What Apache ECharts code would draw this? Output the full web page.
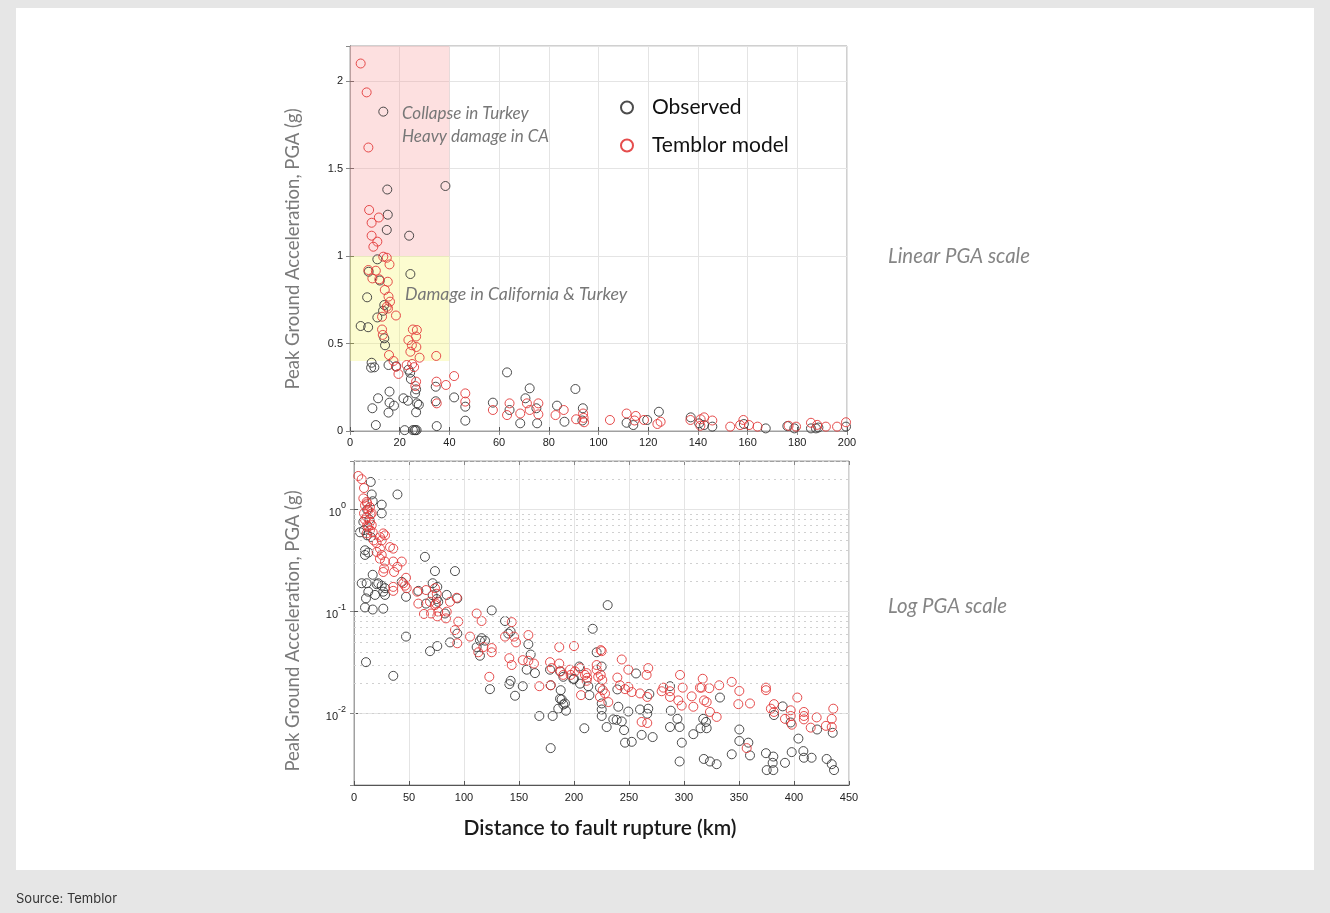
<!DOCTYPE html>
<html><head><meta charset="utf-8">
<script src="https://cdn.jsdelivr.net/npm/echarts@6/dist/echarts.min.js"></script>
<style>
html,body{margin:0;padding:0;background:#e6e6e6;width:1330px;height:913px;overflow:hidden;}
#panel{position:absolute;left:16px;top:8px;width:1298px;height:862px;background:#fff;}
#chart{position:absolute;left:0;top:0;width:1330px;height:913px;}
</style></head><body>
<div id="panel"></div><div id="chart"></div>
<script>
// ---- Linear panel (0-200 km): [distance km, PGA g]
const topObserved = [
  [13.4,1.825],[15.0,1.38],[38.4,1.40],[15.2,1.236],[14.8,1.149],[23.8,1.116],[11.0,0.981],[7.5,0.91],
  [24.3,0.897],[12.0,0.86],[6.9,0.764],[13.8,0.72],[13.3,0.687],[11.0,0.649],[4.3,0.60],[7.3,0.593],
  [13.8,0.53],[14.1,0.49],[8.7,0.39],[8.5,0.362],[9.8,0.364],[15.5,0.377],[18.6,0.37],[23.5,0.35],
  [24.2,0.333],[24.5,0.297],[26.6,0.238],[26.2,0.215],[34.5,0.253],[41.9,0.192],[46.4,0.139],[46.4,0.059],
  [15.9,0.225],[11.3,0.187],[9.0,0.13],[15.9,0.162],[15.5,0.105],[17.7,0.145],[21.5,0.187],[23.3,0.173],
  [27.0,0.158],[27.7,0.15],[26.6,0.107],[34.5,0.17],[10.4,0.034],[22.0,0.005],[25.3,0.005],[26.0,0.005],
  [26.3,0.005],[26.8,0.005],[34.9,0.028],
  [57.5,0.162],[63.2,0.335],[64.2,0.12],[68.5,0.044],[72.3,0.244],[70.6,0.187],[75.0,0.13],[75.3,0.044],
  [83.3,0.145],[86.3,0.053],[90.7,0.24],[93.7,0.13],[93.5,0.06],
  [111.3,0.047],[114.0,0.034],[119.6,0.063],[124.3,0.11],[137.1,0.078],[140.5,0.044],[142.5,0.034],
  [145.8,0.025],[158.5,0.04],[167.3,0.015],[176.0,0.028],[178.8,0.015],[185.5,0.015],[187.5,0.015],
  [188.5,0.02],[199.6,0.025]
];
const topModel = [
  [4.3,2.10],[6.7,1.935],[7.4,1.62],[7.7,1.263],[8.7,1.19],[11.6,1.22],[8.7,1.116],[11.0,1.082],
  [9.4,1.053],[13.4,0.996],[14.8,0.99],[15.9,0.952],[7.4,0.92],[10.4,0.916],[9.0,0.872],[11.8,0.867],
  [15.2,0.853],[14.0,0.806],[15.5,0.768],[16.1,0.739],[14.8,0.71],[15.3,0.70],[12.9,0.653],[18.5,0.66],
  [12.9,0.58],[25.3,0.58],[26.9,0.577],[13.2,0.549],[23.5,0.52],[26.6,0.54],[24.9,0.49],[26.7,0.48],
  [15.7,0.434],[24.3,0.453],[28.0,0.419],[34.7,0.429],[17.5,0.40],[18.5,0.367],[19.5,0.326],[22.8,0.377],
  [25.0,0.383],[25.8,0.365],[26.6,0.282],[26.3,0.257],[34.8,0.282],[38.6,0.263],[41.9,0.314],[46.4,0.215],
  [46.4,0.168],[34.9,0.158],
  [57.5,0.12],[64.2,0.158],[63.2,0.091],[68.5,0.1],[71.2,0.158],[72.3,0.12],[75.8,0.158],[75.8,0.095],
  [82.7,0.091],[86.0,0.12],[91.0,0.067],[94.0,0.075],[94.2,0.05],[93.8,0.1],
  [104.6,0.063],[111.3,0.1],[115.0,0.086],[114.5,0.06],[118.3,0.063],[123.7,0.04],[125.0,0.053],[137.0,0.063],
  [141.1,0.067],[142.5,0.078],[141.0,0.03],[145.8,0.06],[153.0,0.025],[157.0,0.034],[158.3,0.063],[160.6,0.034],
  [164.0,0.025],[179.5,0.025],[176.5,0.03],[185.5,0.047],[188.0,0.035],[191.5,0.025],[196.0,0.025],[199.6,0.05]
];
// ---- Log panel (0-450 km): [distance km, PGA g]
const logObserved = [
  [15.2,1.87],[16.1,1.41],[39.5,1.41],[17.0,1.21],[25.2,1.12],[25.2,0.92],[8.5,0.76],[5.5,0.60],[9.0,0.63],
  [15.2,0.54],[12.0,0.56],[10.0,0.40],[10.0,0.36],[13.0,0.38],[12.0,1.0],[14.0,0.8],[17.0,0.23],[11.5,0.19],
  [20.6,0.186],[25.2,0.18],[28.2,0.17],[22.0,0.19],[7.0,0.19],[43.4,0.196],[10.9,0.135],[19.1,0.146],
  [28.2,0.146],[13.0,0.157],[26.6,0.157],[17.0,0.105],[26.6,0.107],[10.0,0.11],[47.3,0.14],[10.9,0.032],
  [35.7,0.0235],[47.3,0.057],
  [64.5,0.345],[73.6,0.25],[91.8,0.25],[71.5,0.19],[75.7,0.175],[58.5,0.16],[65.5,0.12],[71.5,0.145],
  [75.2,0.133],[76.6,0.125],[84.3,0.146],[93.9,0.135],[82.7,0.096],[93.9,0.061],[87.3,0.05],[69.1,0.041],
  [75.7,0.046],
  [125.2,0.103],[114.5,0.052],[119.1,0.052],[111.5,0.045],[114.5,0.037],[116.0,0.055],[123.6,0.0174],
  [137.3,0.081],[142.4,0.064],[140.3,0.061],[142.4,0.021],[141.2,0.0195],[153.4,0.0186],[146.4,0.015],
  [158.5,0.048],[160.6,0.038],[157.0,0.027],[164.5,0.025],[178.2,0.027],[178.8,0.019],[187.9,0.017],
  [187.3,0.014],[190.3,0.0123],[187.3,0.026],[190.3,0.023],[192.7,0.0107],[168.5,0.0095],[180.6,0.0095],
  [178.8,0.0046],[185.7,0.0112],[188.8,0.0138],[191.8,0.0126],
  [204.8,0.029],[200.0,0.022],[217.0,0.068],[213.0,0.0186],[214.0,0.0152],[220.6,0.04],[230.6,0.116],
  [225.2,0.029],[256.4,0.0248],[223.6,0.018],[225.2,0.0126],[225.2,0.011],[225.2,0.0095],[240.3,0.0117],
  [239.4,0.0173],[235.7,0.0088],[238.8,0.0087],[243.4,0.0084],[245.5,0.0069],[246.4,0.0052],[252.5,0.0053],
  [249.4,0.0105],[229.7,0.0074],[209.4,0.0072],[267.5,0.0112],[260.0,0.011],[266.6,0.01],[261.5,0.0062],
  [271.5,0.0059],[287.3,0.0186],[268.5,0.0156],[288.0,0.0107],[294.0,0.0089],[296.0,0.0074],[298.0,0.0052],
  [296.0,0.0034],[287.3,0.0074],[205.5,0.0197],[199.4,0.0217],
  [308.5,0.0063],[315.0,0.0072],[320.0,0.0083],[317.5,0.0089],[320.6,0.0072],[318.0,0.0036],[323.6,0.0034],
  [329.7,0.0032],[332.7,0.0144],[343.4,0.004],[350.3,0.007],[358.5,0.0052],[360.0,0.0039],[374.5,0.0041],
  [381.2,0.0038],[380.6,0.0033],[375.2,0.0028],[381.2,0.0028],[389.7,0.0118],[391.8,0.0033],[397.9,0.0042],
  [404.0,0.0057],[408.5,0.0043],[409.0,0.0037],[416.0,0.0037],[421.0,0.007],[429.7,0.0036],[434.3,0.0032],
  [436.4,0.0028],[435.2,0.0065],[381.8,0.0097],[397.0,0.0082],[350.3,0.0054]
];
const logModel = [
  [3.9,2.14],[7.0,1.99],[9.1,1.63],[8.5,1.29],[11.5,1.19],[10.0,1.1],[14.5,1.06],[13.0,0.99],[9.1,0.92],
  [16.1,0.92],[11.5,0.85],[14.5,0.76],[16.1,0.705],[13.0,0.68],[14.5,0.63],[11.5,0.585],[26.6,0.585],
  [23.6,0.54],[28.2,0.56],[25.2,0.50],[20.6,0.47],[23.6,0.415],[20.6,0.385],[25.2,0.36],[23.6,0.33],
  [28.2,0.31],[32.7,0.43],[35.7,0.415],[26.6,0.245],[27.3,0.265],[35.7,0.31],[43.4,0.31],[39.4,0.275],
  [36.4,0.245],[47.3,0.215],[46.4,0.18],[35.7,0.175],[35.7,0.16],[44.8,0.19],[47.9,0.17],[12.0,1.15],
  [10.0,0.8],[15.0,0.9],[12.0,0.7],[17.0,0.6],[18.0,0.5],
  [57.5,0.157],[65.5,0.163],[69.1,0.125],[73.6,0.17],[75.2,0.15],[73.6,0.116],[76.6,0.1],[87.3,0.125],
  [84.3,0.1],[93.4,0.137],[58.5,0.12],[74.5,0.12],[63.6,0.095],[70.0,0.096],[75.7,0.09],[83.6,0.086],
  [94.8,0.08],[91.8,0.066],[93.9,0.049],
  [105.5,0.057],[111.5,0.096],[116.0,0.081],[117.6,0.045],[125.2,0.044],[125.2,0.04],[113.0,0.04],[123.0,0.023],
  [143.4,0.079],[137.3,0.057],[145.5,0.057],[147.3,0.05],[141.2,0.035],[143.4,0.03],[153.4,0.0335],
  [158.5,0.059],[158.5,0.033],[163.6,0.031],[168.5,0.0186],[178.2,0.032],[179.7,0.028],[186.6,0.031],
  [187.9,0.026],[190.3,0.024],[186.6,0.045],[196.4,0.027],[197.0,0.024],[178.8,0.019],
  [200.0,0.046],[210.0,0.024],[212.0,0.0225],[211.5,0.025],[206.4,0.0152],[220.6,0.027],[222.0,0.023],
  [224.3,0.042],[225.2,0.041],[243.4,0.034],[249.4,0.027],[267.5,0.028],[266.0,0.024],[296.4,0.024],
  [298.8,0.018],[200.9,0.026],[205.5,0.028],[211.5,0.021],[220.6,0.030],[224.3,0.024],[225.7,0.0214],
  [226.1,0.017],[223.6,0.0146],[228.2,0.0158],[231.2,0.013],[239.4,0.0226],[241.8,0.019],[246.4,0.0174],
  [249.4,0.0183],[252.5,0.0163],[260.0,0.0158],[266.6,0.0146],[261.5,0.0083],[266.6,0.0081],[279.7,0.0166],
  [281.2,0.018],[287.3,0.0166],[287.3,0.0146],[294.8,0.0135],[297.9,0.012],
  [308.5,0.0117],[307.0,0.0148],[314.5,0.018],[318.2,0.0135],[320.6,0.013],[317.0,0.022],[316.0,0.018],
  [323.0,0.0178],[332.0,0.019],[343.4,0.0205],[323.6,0.0104],[329.7,0.0093],[350.3,0.0167],[349.4,0.0124],
  [360.0,0.0126],[357.0,0.0046],[374.5,0.018],[374.5,0.017],[379.0,0.0112],[381.8,0.0124],[381.8,0.0104],
  [391.8,0.0089],[397.0,0.0108],[403.0,0.0144],[409.0,0.0104],[409.0,0.0095],[409.0,0.0088],[420.6,0.0092],
  [415.2,0.0073],[429.0,0.0076],[434.3,0.0074],[434.3,0.0089],[435.7,0.0112],[397.0,0.0095],[398.0,0.0078]
];
// shaded damage zones on the linear panel: [[x0, y0], [x1, y1]]
const collapseZone = [[0, 1.0], [40, 2.2]];
const damageZone = [[0, 0.4], [40, 1.0]];
// minor (dotted) gridlines of the log axis
const logMinorLines = [0.002,0.003,0.004,0.005,0.006,0.007,0.008,0.009,
  0.02,0.03,0.04,0.05,0.06,0.07,0.08,0.09,0.2,0.3,0.4,0.5,0.6,0.7,0.8,0.9,2,3];

const OBS = '#383838', MOD = '#e23a3a';
const tickFont = {fontSize: 11, color: '#222', fontFamily: 'Liberation Sans'};
function pt(color) {
  return {symbol: 'circle', symbolSize: 9,
    itemStyle: {color: 'rgba(0,0,0,0)', borderColor: color, borderWidth: 1, opacity: 0.9}};
}
const chart = echarts.init(document.getElementById('chart'), null, {renderer: 'canvas'});
const option = {
  animation: false,
  backgroundColor: 'transparent',
  grid: [
    {left: 350, top: 46, width: 497, height: 385, show: true, borderColor: '#a0a0a0', borderWidth: 1},
    {left: 354, top: 461, width: 495, height: 324, show: true, borderColor: '#a0a0a0', borderWidth: 1}
  ],
  legend: {
    data: ['Observed', 'Temblor model'], orient: 'vertical', left: 615, top: 92,
    itemWidth: 12, itemHeight: 12, itemGap: 17,
    textStyle: {fontSize: 21, color: '#111', fontFamily: 'Lato', padding: [0, 0, 0, 14]}
  },
  xAxis: [
    {type: 'value', gridIndex: 0, min: 0, max: 200, interval: 20,
     axisLine: {lineStyle: {color: '#555'}}, axisTick: {inside: true, length: 4, lineStyle: {color: '#555'}},
     axisLabel: Object.assign({margin: 6}, tickFont), splitLine: {show: true, lineStyle: {color: '#e4e4e4'}}},
    {type: 'value', gridIndex: 0, min: 0, max: 200, interval: 20, position: 'top',
     axisLine: {lineStyle: {color: '#a0a0a0'}}, axisTick: {inside: true, length: 4, lineStyle: {color: '#888'}},
     axisLabel: {show: false}, splitLine: {show: false}},
    {type: 'value', gridIndex: 1, min: 0, max: 450, interval: 50,
     axisLine: {lineStyle: {color: '#555'}}, axisTick: {inside: true, length: 4, lineStyle: {color: '#555'}},
     axisLabel: Object.assign({margin: 7}, tickFont), splitLine: {show: true, lineStyle: {color: '#e4e4e4'}}},
    {type: 'value', gridIndex: 1, min: 0, max: 450, interval: 50, position: 'top',
     axisLine: {lineStyle: {color: '#a0a0a0'}}, axisTick: {inside: true, length: 4, lineStyle: {color: '#888'}},
     axisLabel: {show: false}, splitLine: {show: false}}
  ],
  yAxis: [
    {type: 'value', gridIndex: 0, min: 0, max: 2.2, interval: 0.5,
     axisLine: {show: true, lineStyle: {color: '#555'}}, axisTick: {show: true, inside: true, length: 4, lineStyle: {color: '#555'}},
     axisLabel: Object.assign({margin: 7, showMaxLabel: false}, tickFont),
     splitLine: {show: true, lineStyle: {color: '#e4e4e4'}}},
    {type: 'value', gridIndex: 0, min: 0, max: 2.2, interval: 0.5, position: 'right',
     axisLine: {show: true, lineStyle: {color: '#a0a0a0'}}, axisTick: {show: true, inside: true, length: 4, lineStyle: {color: '#888'}},
     axisLabel: {show: false}, splitLine: {show: false}},
    {type: 'log', logBase: 10, gridIndex: 1, min: 0.002, max: 3,
     axisLine: {show: true, lineStyle: {color: '#555'}}, axisTick: {show: true, inside: true, length: 4, lineStyle: {color: '#555'}},
     axisLabel: {margin: 8, showMinLabel: false, showMaxLabel: false,
       formatter: v => { const e = Math.round(Math.log10(v)); return '{b|10}{s|' + e + '}'; },
       rich: {b: {fontSize: 11, color: '#222', fontFamily: 'Liberation Sans', lineHeight: 18, verticalAlign: 'bottom'},
              s: {fontSize: 9, color: '#222', fontFamily: 'Liberation Sans', lineHeight: 10, verticalAlign: 'top'}}},
     splitLine: {show: true, lineStyle: {color: '#e4e4e4'}}},
    {type: 'log', logBase: 10, gridIndex: 1, min: 0.002, max: 3, position: 'right',
     axisLine: {show: true, lineStyle: {color: '#a0a0a0'}}, axisTick: {show: true, inside: true, length: 4, lineStyle: {color: '#888'}},
     axisLabel: {show: false}, splitLine: {show: false}}
  ],
  series: [
    Object.assign({type: 'scatter', name: 'Observed', xAxisIndex: 0, yAxisIndex: 0, data: topObserved, z: 3,
      markArea: {silent: true,
        data: [
          [{coord: collapseZone[0], itemStyle: {color: 'rgba(250,160,160,0.32)'},
            label: {show: true, position: [52, 56], formatter: 'Collapse in Turkey\nHeavy damage in CA',
              fontSize: 17, fontStyle: 'italic', fontFamily: 'Lato', color: '#777', lineHeight: 23, align: 'left'}},
           {coord: collapseZone[1]}],
          [{coord: damageZone[0], itemStyle: {color: 'rgba(245,245,110,0.32)'},
            label: {show: true, position: [55, 27], formatter: 'Damage in California & Turkey',
              fontSize: 17.7, fontStyle: 'italic', fontFamily: 'Lato', color: '#777', lineHeight: 23, align: 'left'}},
           {coord: damageZone[1]}]
        ]}}, pt(OBS)),
    Object.assign({type: 'scatter', name: 'Temblor model', xAxisIndex: 0, yAxisIndex: 0, data: topModel, z: 4}, pt(MOD)),
    Object.assign({type: 'scatter', name: 'Observed', xAxisIndex: 2, yAxisIndex: 2, data: logObserved, z: 3}, pt(OBS)),
    Object.assign({type: 'scatter', name: 'Temblor model', xAxisIndex: 2, yAxisIndex: 2, data: logModel, z: 4}, pt(MOD)),
    {type: 'scatter', name: 'minor', xAxisIndex: 2, yAxisIndex: 2, data: [], z: 1,
     markLine: {silent: true, symbol: 'none', label: {show: false},
       lineStyle: {color: '#d0d0d0', type: [2, 4], width: 1},
       data: logMinorLines.map(v => ({yAxis: v}))}}
  ],
  graphic: [
    {type: 'text', x: 293, y: 249, rotation: Math.PI / 2,
     style: {text: 'Peak Ground Acceleration, PGA (g)', font: '18.5px Lato', fill: '#7a7a7a', align: 'center', verticalAlign: 'middle'}},
    {type: 'text', x: 293, y: 631, rotation: Math.PI / 2,
     style: {text: 'Peak Ground Acceleration, PGA (g)', font: '18.5px Lato', fill: '#7a7a7a', align: 'center', verticalAlign: 'middle'}},
    {type: 'text', x: 600, y: 828,
     style: {text: 'Distance to fault rupture (km)', font: '600 21px Lato', fill: '#1a1a1a', align: 'center', verticalAlign: 'middle'}},
    {type: 'text', x: 888, y: 256,
     style: {text: 'Linear PGA scale', font: 'italic 20.4px Lato', fill: '#858585', align: 'left', verticalAlign: 'middle'}},
    {type: 'text', x: 888, y: 606,
     style: {text: 'Log PGA scale', font: 'italic 20.4px Lato', fill: '#858585', align: 'left', verticalAlign: 'middle'}},
    {type: 'text', x: 16, y: 899,
     style: {text: 'Source: Temblor', font: '13px Inter', fill: '#333', align: 'left', verticalAlign: 'middle'}}
  ]
};
chart.setOption(option);
</script></body></html>
